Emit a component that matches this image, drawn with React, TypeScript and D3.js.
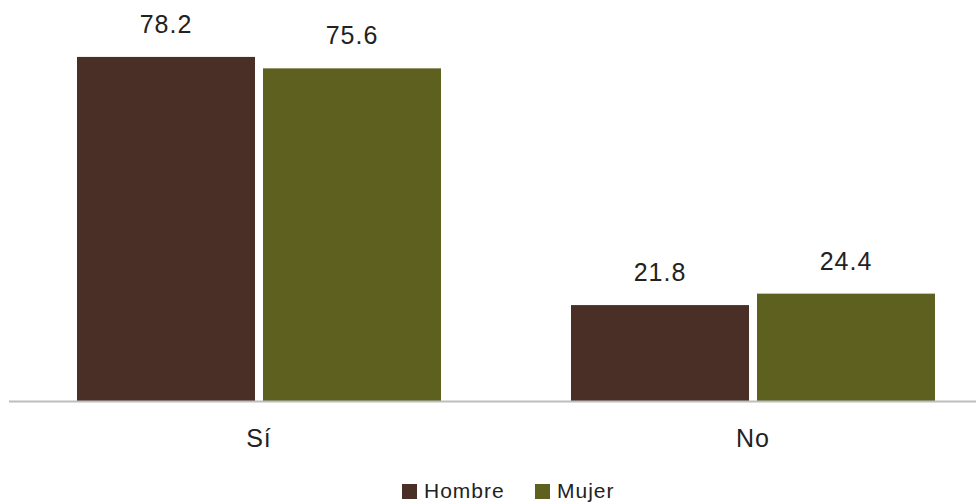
import React from "react";
import * as d3 from "d3";

const categories = ["Sí", "No"];
const series = ["Hombre", "Mujer"];
const hombreValues = [78.2, 21.8];
const mujerValues = [75.6, 24.4];
const colors = ["#4a2f27", "#5e6020"];

const W = 976;
const H = 503;
const baseline = 401;
const font = "'Liberation Sans', Arial, Helvetica, sans-serif";

export default function App() {
  const x0 = d3.scaleBand<string>().domain(categories).range([12, 1000]).paddingInner(0).paddingOuter(0);
  const x1 = d3
    .scaleBand<string>()
    .domain(series)
    .range([65, x0.bandwidth() - 65])
    .paddingInner(8 / 186)
    .paddingOuter(0);
  const y = d3.scaleLinear().domain([0, 80]).range([baseline, baseline - 80 * 4.4]);
  const valuesBySeries = [hombreValues, mujerValues];

  return (
    <svg
      width={W}
      height={H}
      style={{ position: "absolute", left: 0, top: 0, background: "#fff" }}
      fontFamily={font}
    >
      {categories.map((cat, ci) => (
        <g key={cat} transform={`translate(${x0(cat)},0)`}>
          {series.map((s, si) => {
            const v = valuesBySeries[si][ci];
            const bx = x1(s)!;
            const bw = x1.bandwidth();
            return (
              <g key={s}>
                <rect x={bx} y={y(v)} width={bw} height={baseline - y(v)} fill={colors[si]} />
                <text
                  x={bx + bw / 2}
                  y={y(v) - 24}
                  textAnchor="middle"
                  fontSize={25}
                  letterSpacing={1}
                  fill="#222"
                >
                  {v.toFixed(1)}
                </text>
              </g>
            );
          })}
          <text
            x={x0.bandwidth() / 2}
            y={447}
            textAnchor="middle"
            fontSize={25}
            letterSpacing={1}
            fill="#222"
          >
            {cat}
          </text>
        </g>
      ))}
      <line x1={9} x2={W} y1={baseline + 0.5} y2={baseline + 0.5} stroke="#bdbdbd" strokeWidth={2} />
      <g>
        {series.map((s, si) => {
          const lx = [402, 535][si];
          return (
            <g key={s}>
              <rect x={lx} y={484} width={15} height={15} fill={colors[si]} />
              <text x={lx + 22} y={498} fontSize={21} letterSpacing={1} fill="#222">
                {s}
              </text>
            </g>
          );
        })}
      </g>
    </svg>
  );
}
